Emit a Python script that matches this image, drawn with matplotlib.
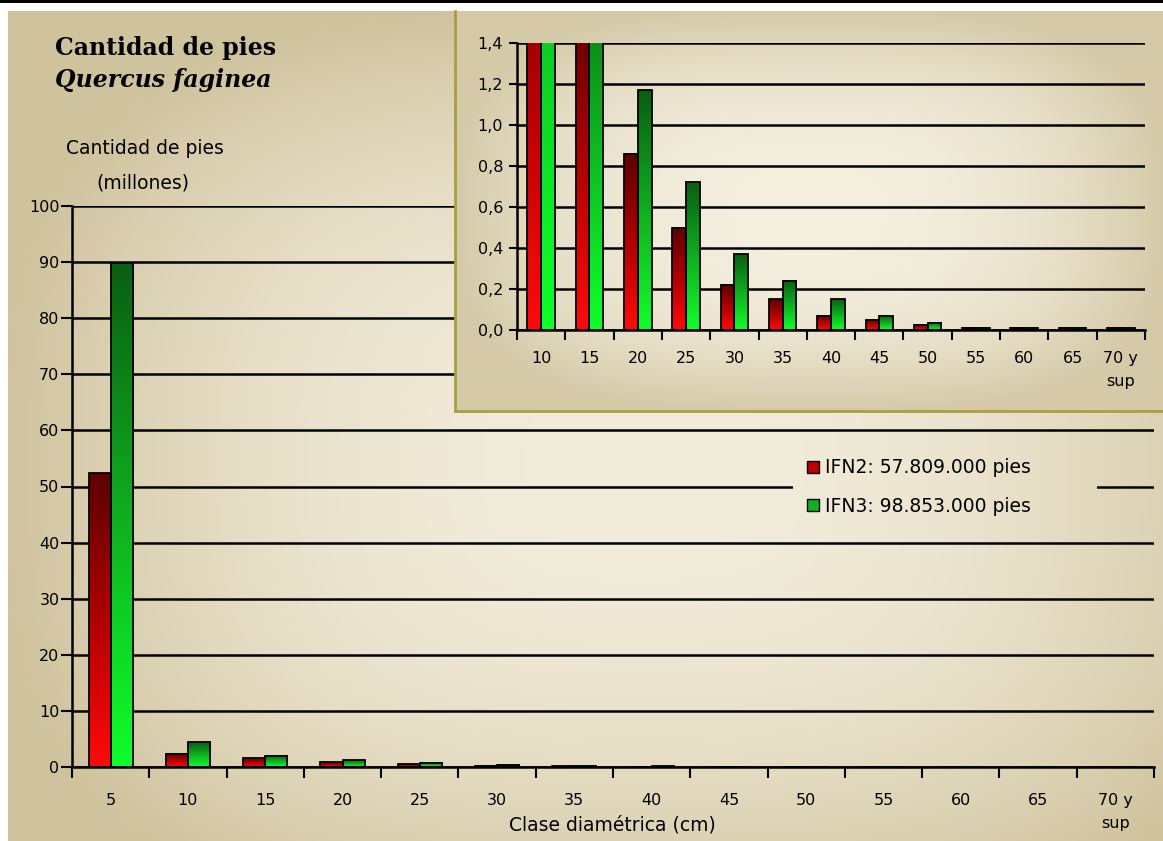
import numpy as np
import matplotlib
matplotlib.use('Agg')
import matplotlib.pyplot as plt
from matplotlib.colors import LinearSegmentedColormap, to_rgb
from matplotlib.lines import Line2D

# Clases diamétricas y cantidad de pies (millones) por inventario
clases = ['5', '10', '15', '20', '25', '30', '35', '40', '45', '50', '55', '60', '65', '70 y\nsup']
ifn2 = [52.4, 2.4, 1.6, 0.86, 0.50, 0.22, 0.15, 0.07, 0.05, 0.025, 0.01, 0.01, 0.01, 0.01]
ifn3 = [89.9, 4.4, 2.0, 1.17, 0.72, 0.37, 0.24, 0.15, 0.07, 0.035, 0.01, 0.01, 0.01, 0.01]
etiquetas = ['IFN2: 57.809.000 pies', 'IFN3: 98.853.000 pies']

W, H = 1163, 841
plt.rcParams['font.family'] = ['DejaVu Sans']

cmap_rojo = LinearSegmentedColormap.from_list('rojo', ['#5c0000', '#b00000', '#ff0a0a'])
cmap_verde = LinearSegmentedColormap.from_list('verde', ['#0a5e12', '#0fae20', '#10ff2a'])


def fondo_degradado(h, w, claro, oscuro, cx=0.55, cy=0.5, pot=2.2):
    # degradado desde el centro hacia los bordes (forma casi rectangular)
    yy, xx = np.mgrid[0:h, 0:w]
    u = (xx / (w - 1) - cx) / max(cx, 1 - cx)
    v = (yy / (h - 1) - cy) / max(cy, 1 - cy)
    d = np.clip((np.abs(u) ** 3 + np.abs(v) ** 3) ** (1 / 3), 0, 1) ** pot
    c1 = np.array(to_rgb(claro))
    c2 = np.array(to_rgb(oscuro))
    return c1 * (1 - d[..., None]) + c2 * d[..., None]


def barras_degradado(ax, x, valores, ancho, cmap):
    grad = np.linspace(0, 1, 256).reshape(-1, 1)
    for xi, val in zip(x, valores):
        ax.imshow(grad, extent=(xi - ancho / 2, xi + ancho / 2, 0, val), origin='upper',
                  cmap=cmap, aspect='auto', zorder=2, interpolation='bilinear')
    ax.bar(x, valores, width=ancho, fill=False, edgecolor='black', linewidth=1.3, zorder=3)


fig = plt.figure(figsize=(W / 100, H / 100), dpi=100)

# fondo general: blanco, línea negra arriba y panel beige degradado
img = np.ones((H, W, 3))
img[0:3, :, :] = 0
img[11:, 8:, :] = fondo_degradado(H - 11, W - 8, '#f2ecdb', '#d0c39e', cx=0.55, cy=0.55)
ax_bg = fig.add_axes([0, 0, 1, 1], zorder=0)
ax_bg.imshow(img, extent=(0, 1, 0, 1), aspect='auto')
ax_bg.axis('off')

# gráfico principal
ax = fig.add_axes([72 / W, 1 - 767 / H, (1154 - 72) / W, (767 - 206) / H], zorder=1)
ax.patch.set_alpha(0)
x = np.arange(len(clases))
ancho = 0.285
barras_degradado(ax, x - ancho / 2, ifn2, ancho, cmap_rojo)
barras_degradado(ax, x + ancho / 2, ifn3, ancho, cmap_verde)
ax.set_xlim(-0.5, len(clases) - 0.5)
ax.set_ylim(0, 100)
ax.set_yticks(np.arange(0, 101, 10))
ax.yaxis.grid(True, color='black', linewidth=1.8)
ax.set_axisbelow(True)
ax.set_xticks(x)
ax.set_xticklabels(clases, fontsize=11.5, linespacing=1.6)
ax.set_xticks(np.arange(-0.5, len(clases)), minor=True)
ax.tick_params(axis='x', which='major', length=0, pad=19)
ax.tick_params(axis='x', which='minor', length=8, width=1.5, direction='out')
ax.tick_params(axis='y', length=8, width=1.5, labelsize=11.5, pad=1)
for s in ['top', 'right']:
    ax.spines[s].set_visible(False)
for s in ['left', 'bottom']:
    ax.spines[s].set_linewidth(1.8)
fig.text(612 / W, 1 - 825 / H, 'Clase diamétrica (cm)', fontsize=13.5, ha='center', va='center')

# hueco de la leyenda sobre la rejilla, con el mismo fondo
x0, x1, y0, y1 = 793, 1097, 445, 528
fig.figimage(img[y0:y1, x0:x1], xo=x0, yo=H - y1, zorder=1.5)
manejadores = [Line2D([], [], marker='s', linestyle='none', markersize=8,
                      markerfacecolor=c, markeredgecolor='black', markeredgewidth=1)
               for c in ['#c00000', '#10b020']]
leg = fig.legend(manejadores, etiquetas, loc='center left', bbox_to_anchor=(787 / W, 1 - 487 / H),
                 frameon=False, fontsize=13.5, labelspacing=1.05, handletextpad=0.15,
                 handlelength=1.0)
leg.set_zorder(1.6)

# títulos
fig.text(55 / W, 1 - 48 / H, 'Cantidad de pies', fontsize=17, fontweight='bold',
         family='DejaVu Serif', va='center')
fig.text(55 / W, 1 - 80 / H, 'Quercus faginea', fontsize=17, fontweight='bold',
         style='italic', family='DejaVu Serif', va='center')
fig.text(145 / W, 1 - 148 / H, 'Cantidad de pies', fontsize=13.5, ha='center', va='center')
fig.text(143 / W, 1 - 183 / H, '(millones)', fontsize=13.5, ha='center', va='center')

# panel de detalle
ax_pan = fig.add_axes([455 / W, 1 - 411 / H, (W - 455) / W, (411 - 11) / H], zorder=2)
ax_pan.imshow(fondo_degradado(400, W - 455, '#f5efe0', '#d5caa8', cx=0.5, cy=0.5, pot=2.4),
              extent=(0, 1, 0, 1), aspect='auto')
ax_pan.set_xlim(0, 1)
ax_pan.set_ylim(0, 1)
ax_pan.set_xticks([])
ax_pan.set_yticks([])
for s in ['top', 'right']:
    ax_pan.spines[s].set_visible(False)
for s in ['left', 'bottom']:
    ax_pan.spines[s].set_color('#a8a040')
    ax_pan.spines[s].set_linewidth(2.0)

ax_in = fig.add_axes([517 / W, 1 - 330 / H, (1145 - 517) / W, (330 - 43) / H], zorder=3)
ax_in.patch.set_alpha(0)
xi = np.arange(len(clases) - 1)
barras_degradado(ax_in, xi - ancho / 2, ifn2[1:], ancho, cmap_rojo)
barras_degradado(ax_in, xi + ancho / 2, ifn3[1:], ancho, cmap_verde)
ax_in.set_xlim(-0.5, len(xi) - 0.5)
ax_in.set_ylim(0, 1.4)
yt = np.arange(0, 1.41, 0.2)
ax_in.set_yticks(yt)
ax_in.set_yticklabels([f'{v:.1f}'.replace('.', ',') for v in yt])
ax_in.yaxis.grid(True, color='black', linewidth=1.8)
ax_in.set_axisbelow(True)
ax_in.set_xticks(xi)
ax_in.set_xticklabels(clases[1:], fontsize=11.5, linespacing=1.7)
ax_in.set_xticks(np.arange(-0.5, len(xi)), minor=True)
ax_in.tick_params(axis='x', which='major', length=0, pad=15)
ax_in.tick_params(axis='x', which='minor', length=7, width=1.5, direction='out')
ax_in.tick_params(axis='y', length=6, width=1.5, labelsize=11.5, pad=4)
for s in ['top', 'right']:
    ax_in.spines[s].set_visible(False)
for s in ['left', 'bottom']:
    ax_in.spines[s].set_linewidth(1.8)

fig.savefig('out.png', dpi=100)
